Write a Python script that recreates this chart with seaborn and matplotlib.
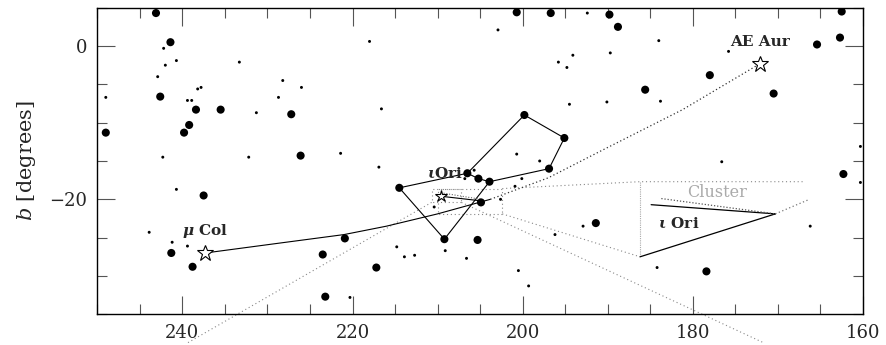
import matplotlib
matplotlib.use('Agg')
import matplotlib.pyplot as plt
from matplotlib.ticker import MultipleLocator
import seaborn as sns
import pandas as pd

# bright field stars (galactic l, b in degrees)
bright_l = [243.1, 241.4, 242.6, 238.4, 235.5, 227.2, 239.2, 239.8, 249.0, 226.1,
            237.5, 241.3, 238.8, 223.5, 220.9, 223.2, 200.7, 196.7, 189.8, 188.8,
            199.8, 195.1, 196.9, 214.5, 206.5, 205.2, 203.9, 204.9, 209.2, 205.3,
            217.2, 191.4, 165.4, 162.7, 162.5, 178.0, 185.6, 170.5, 162.3, 178.4]
bright_b = [4.3, 0.5, -6.6, -8.3, -8.3, -8.9, -10.3, -11.3, -11.3, -14.3,
            -19.5, -27.0, -28.8, -27.2, -25.1, -32.7, 4.4, 4.3, 4.1, 2.5,
            -9.0, -12.0, -16.0, -18.5, -16.6, -17.3, -17.7, -20.4, -25.2, -25.3,
            -28.9, -23.1, 0.2, 1.1, 4.5, -3.8, -5.7, -6.2, -16.7, -29.4]

# faint field stars
faint_l = [242.2, 240.7, 242.0, 233.3, 242.9, 228.2, 226.0, 238.2, 237.8, 249.0,
           239.4, 238.9, 228.7, 231.3, 242.3, 232.2, 221.4, 240.7, 243.9, 241.2,
           239.4, 220.3, 192.4, 202.9, 218.0, 194.1, 195.8, 194.8, 189.7, 216.6,
           194.5, 190.1, 200.7, 184.0, 175.8, 183.8, 160.3, 176.6, 160.3, 166.2,
           184.2, 216.9, 198.0, 205.7, 200.1, 200.9, 206.8, 202.6, 210.4, 214.8,
           213.9, 212.7, 209.1, 206.6, 200.5, 199.3, 196.2, 192.9]
faint_b = [-0.3, -1.9, -2.5, -2.1, -4.0, -4.5, -5.4, -5.6, -5.4, -6.7,
           -7.1, -7.1, -6.7, -8.7, -14.5, -14.5, -14.0, -18.7, -24.3, -25.6,
           -26.1, -32.8, 4.3, 2.1, 0.6, -1.2, -2.1, -2.8, -0.9, -8.2,
           -7.6, -7.3, -14.1, 0.7, -0.7, -7.2, -13.1, -15.1, -17.8, -23.5,
           -28.9, -15.8, -15.0, -16.2, -17.3, -18.3, -17.3, -20.0, -21.0, -26.2,
           -27.5, -27.3, -26.7, -27.7, -29.3, -31.3, -24.6, -23.5]

# Orion figure
orion_l = [199.8, 195.1, 196.9, 203.9, 205.2, 206.5, 214.5, 209.2, 203.9]
orion_b = [-9.0, -12.0, -16.0, -17.7, -17.3, -16.6, -18.5, -25.2, -17.7]
orion_arm_l = [206.5, 199.8]
orion_arm_b = [-16.6, -9.0]

# traced-back paths of the runaways
mucol_l = [237.3, 228.5, 221.0, 216.0, 210.0, 203.8]
mucol_b = [-27.0, -25.7, -24.6, -23.5, -21.9, -20.0]
aeaur_l = [203.8, 197.0, 190.3, 181.2, 172.1]
aeaur_b = [-20.0, -17.2, -13.4, -8.3, -2.3]
iori_l = [209.6, 204.9]
iori_b = [-19.6, -20.2]
cluster_l = [209.3, 204.9]
cluster_b = [-19.2, -20.0]

# runaway stars
runaway_l = [172.1, 237.3]
runaway_b = [-2.3, -27.0]

# zoom boxes and enlarged view
small_box = (207.2, 210.7, -20.4, -18.7)
big_box = (202.4, 210.0, -21.9, -18.6)
zoom_top_l = [202.4, 186.2, 166.9]
zoom_top_b = [-18.6, -17.7, -17.7]
zoom_left_l = [186.2, 186.2]
zoom_left_b = [-17.7, -27.5]
zoom_low_l = [202.4, 186.2]
zoom_low_b = [-21.9, -27.5]
ray1_l = [210.7, 239.5]
ray1_b = [-20.4, -38.8]
ray2_l = [207.2, 171.7]
ray2_b = [-20.4, -38.7]
big_iori_l = [186.2, 170.3]
big_iori_b = [-27.5, -21.9]
big_mucol_l = [184.9, 170.3]
big_mucol_b = [-20.7, -21.9]
big_cluster_l = [183.7, 170.3]
big_cluster_b = [-19.9, -21.9]
big_aeaur_l = [170.3, 166.5]
big_aeaur_b = [-21.9, -20.1]

sns.set_style('ticks')
plt.rcParams['font.family'] = ['DejaVu Serif']
plt.rcParams['mathtext.fontset'] = 'dejavuserif'

fig = plt.figure(figsize=(8.86, 3.45), dpi=100)
ax = fig.add_axes([0.1098, 0.089, 0.8642, 0.8887])

stars = pd.DataFrame({
    'l': bright_l + faint_l,
    'b': bright_b + faint_b,
    'kind': ['bright'] * len(bright_l) + ['faint'] * len(faint_l),
})
sns.scatterplot(data=stars, x='l', y='b', size='kind',
                sizes={'bright': 34, 'faint': 4.5}, color='black',
                edgecolor='none', legend=False, ax=ax, zorder=3)

# constellation lines
ax.plot(orion_l, orion_b, color='black', lw=0.8, zorder=2)
ax.plot(orion_arm_l, orion_arm_b, color='black', lw=0.8, zorder=2)

# paths
ax.plot(mucol_l, mucol_b, color='black', lw=0.8, zorder=2)
ax.plot(aeaur_l, aeaur_b, color='#333333', lw=0.9, ls=(0, (1, 2)), zorder=2)
ax.plot(iori_l, iori_b, color='black', lw=0.8, zorder=2)
ax.plot(cluster_l, cluster_b, color='#666666', lw=0.8, ls=(0, (1, 1.5)), zorder=2)

# zoom boxes and connectors
grey_dot = dict(color='#888888', lw=0.8, ls=(0, (1, 2.5)), zorder=1)
for x0, x1, y0, y1 in [small_box, big_box]:
    ax.plot([x0, x1, x1, x0, x0], [y0, y0, y1, y1, y0], **grey_dot)
ax.plot(zoom_top_l, zoom_top_b, **grey_dot)
ax.plot(zoom_left_l, zoom_left_b, color='#aaaaaa', lw=0.8, ls=(0, (1, 1)), zorder=1)
ax.plot(zoom_low_l, zoom_low_b, **grey_dot)
ax.plot(ray1_l, ray1_b, clip_on=False, **grey_dot)
ax.plot(ray2_l, ray2_b, clip_on=False, **grey_dot)

# enlarged view
ax.plot(big_iori_l, big_iori_b, color='black', lw=0.9, zorder=2)
ax.plot(big_mucol_l, big_mucol_b, color='black', lw=0.9, zorder=2)
ax.plot(big_cluster_l, big_cluster_b, color='#555555', lw=0.9, ls=(0, (1, 1.5)), zorder=2)
ax.plot(big_aeaur_l, big_aeaur_b, color='#777777', lw=0.9, ls=(0, (1, 2)), zorder=2)

# runaway stars and iota Ori
ax.plot(runaway_l, runaway_b, ls='none', marker='*', ms=12, mfc='white',
        mec='black', mew=0.8, zorder=4)
ax.plot([iori_l[0]], [iori_b[0]], ls='none', marker='*', ms=9, mfc='white',
        mec='black', mew=0.8, zorder=4)

lab = dict(fontsize=11, fontweight='bold')
ax.text(175.6, 0.5, 'AE Aur', ha='left', va='center', **lab)
ax.text(240.0, -24.1, r'$\mathbfit{\mu}$ Col', ha='left', va='center', **lab)
ax.text(211.3, -16.6, r'$\mathbfit{\iota}$Ori', ha='left', va='center', **lab)
ax.text(177.1, -19.1, 'Cluster', fontsize=11.5, ha='center', va='center', color='#aaaaaa')
ax.text(184.1, -23.2, r'$\mathbfit{\iota}$ Ori', ha='left', va='center', **lab)

ax.set_xlim(250, 160)
ax.set_ylim(-35, 5)
ax.xaxis.set_major_locator(MultipleLocator(20))
ax.xaxis.set_minor_locator(MultipleLocator(5))
ax.yaxis.set_major_locator(MultipleLocator(20))
ax.yaxis.set_minor_locator(MultipleLocator(5))
ax.tick_params(which='both', direction='in', top=True, right=True,
               color='#555555', width=0.8, labelsize=13, pad=7)
ax.tick_params(which='major', length=13)
ax.tick_params(which='minor', length=7)
for s in ax.spines.values():
    s.set_color('black')
    s.set_linewidth(1.0)

ax.set_xlabel('')
ax.set_ylabel(r'$b$ [degrees]', fontsize=15, labelpad=8)

fig.savefig('out.png', dpi=100)
